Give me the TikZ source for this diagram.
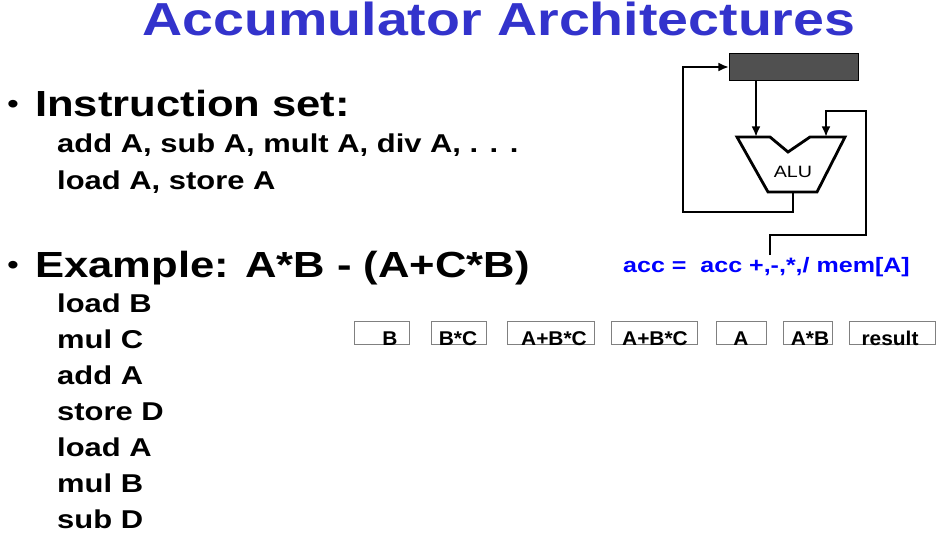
\documentclass[tikz,border=0pt]{standalone}
\usepackage{fontspec}
\setmainfont{Liberation Sans}[FakeStretch=1.2]
\newfontfamily\zellfont{Liberation Sans}[FakeStretch=1.05]
\usetikzlibrary{arrows.meta, positioning}
\definecolor{titelblau}{RGB}{51,51,204}
\definecolor{regfill}{RGB}{80,80,80}

\begin{document}
\begin{tikzpicture}[
      x=0.03cm, y=-0.03cm,
      titel/.style={font=\bfseries\fontsize{39.5}{48}\selectfont, text=titelblau,
                    inner sep=0pt, anchor=base},
      punkt/.style={font=\bfseries\fontsize{31}{36}\selectfont, inner sep=0pt,
                    anchor=base west},
      marke/.style={font=\fontsize{24}{28}\selectfont, inner sep=0pt, anchor=base west},
      befehl/.style={font=\bfseries\fontsize{22}{26}\selectfont, inner sep=0pt,
                     anchor=base west},
      formel/.style={font=\bfseries\fontsize{17.8}{20}\selectfont, text=blue,
                     inner sep=0pt, anchor=base west},
      zelle/.style={draw=gray, thin, inner sep=0pt, minimum height=0.69cm},
      zelltext/.style={font=\zellfont\bfseries\fontsize{17}{19}\selectfont,
                       inner sep=0pt, anchor=base},
      leitung/.style={line width=2.4pt},
      pfeil/.style={leitung, -{Latex[length=9pt, width=7.5pt]}}]
    \useasboundingbox[fill=white] (0,0) rectangle (940,533);

    % Titel und Text
    \node[titel] (titel) at (499,36) {Accumulator Architectures};
    \node[marke] (bul1) at (7,113) {\textbullet};
    \node[punkt] (satz) at (35,116) {Instruction set:};
    \node[befehl] (satz1) at (57,152) {add A, sub A, mult A, div A, . . .};
    \node[befehl] (satz2) at (57,189) {load A, store A};
    \node[marke] (bul2) at (7,274) {\textbullet};
    \node[punkt] (bsp) at (35,277) {Example: A*B - (A+C*B)};
    \foreach \cmd [count=\i from 0] in {load B, mul C, add A, store D, load A, mul B, sub D}
      \node[befehl] (cmd\i) at (57,{312+36*\i}) {\cmd};

    % Akkumulator und ALU
    \node[draw, line width=0.8pt, fill=regfill, inner sep=0pt,
          minimum width=3.87cm, minimum height=0.82cm] (akku) at (794,67) {};
    \draw[leitung, line join=miter] (737,137) -- (770,137) -- (788,152) -- (810,137)
      -- (845,137) -- (817,192) -- (768,192) -- cycle;
    \node[font=\fontsize{14}{16}\selectfont] (alu) at (793,172) {ALU};
    \coordinate (ein1) at (756,137);
    \coordinate (ein2) at (826,137);
    \coordinate (aus) at (793,192);
    \coordinate (mem) at (770,255);
    \draw[pfeil] (akku.south -| ein1) -- (ein1);
    \draw[pfeil] (aus) |- (683,212) |- (akku.west);
    \draw[pfeil] (mem) |- (866,235) |- (826,111) -- (ein2);
    \node[formel] (acc) at (623,272) {acc =~ acc +,-,*,/ mem[A]};

    % Inhalt des Akkumulators
    \foreach \l/\r/\t/\txt/\n in {354/409/390/B/a, 431/486/458/B*C/b,
        507/594/554/A+B*C/c, 611/697/655/A+B*C/d, 716/766/741/A/e,
        783/832/810/A*B/f, 849/935/890/result/g} {
      \node[zelle, minimum width={(\r-\l)*0.03cm}] (zelle\n) at ({(\l+\r)/2},332.5) {};
      \node[zelltext] (wert\n) at (\t,345) {\txt};
    }
  \end{tikzpicture}
\end{document}
